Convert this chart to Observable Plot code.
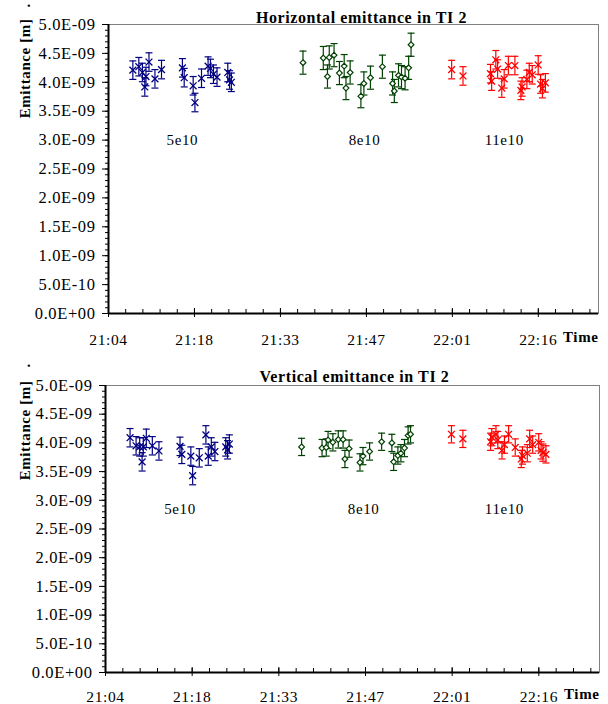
<!DOCTYPE html>
<html><head><meta charset="utf-8">
<script src="https://cdn.jsdelivr.net/npm/d3@7"></script>
<script src="https://cdn.jsdelivr.net/npm/@observablehq/plot@0.6"></script>
<style>
body{margin:0;background:#fff;}
#chart{width:608px;}
#chart svg{display:block;}
svg text{letter-spacing:0.6px;}
g[aria-label="title"] text{letter-spacing:1.2px;}
g[aria-label="group label"] text{letter-spacing:1.2px;}
</style></head><body><div id="chart"></div>
<script>
// time in minutes after 21:00
const timesBlue  = [8.4, 9.4, 10.0, 10.4, 10.6, 11.1, 12.1, 13.2, 16.7, 17.0, 18.5, 18.8, 19.9, 21.0, 21.4, 21.9, 22.5, 24.3, 24.6, 24.9];
const timesGreen = [36.9, 40.3, 41.0, 41.3, 42.1, 43.0, 43.8, 44.1, 44.8, 46.6, 47.1, 48.2, 50.2, 51.9, 52.2, 52.9, 53.4, 54.0, 54.6, 55.0];
const timesRed   = [61.8, 63.7, 68.3, 68.5, 69.2, 69.5, 70.2, 70.6, 71.3, 72.4, 73.4, 73.6, 74.4, 74.8, 75.3, 76.3, 76.7, 77.0, 77.5];

// emittance, units of 1E-09 m
const hBlue  = [4.21, 4.27, 4.17, 3.92, 4.10, 4.35, 4.06, 4.22, 4.25, 4.08, 3.94, 3.65, 4.07, 4.28, 4.24, 4.14, 4.09, 4.17, 4.04, 4.00];
const hGreen = [4.34, 4.42, 4.10, 4.43, 4.47, 4.16, 4.28, 3.90, 4.17, 3.76, 3.98, 4.08, 4.27, 3.98, 3.85, 4.12, 4.09, 4.07, 4.25, 4.65];
const hRed   = [4.22, 4.11, 4.15, 4.02, 4.39, 4.23, 3.90, 4.06, 4.29, 4.29, 3.86, 3.92, 4.05, 4.17, 4.13, 4.30, 3.97, 3.89, 3.99];
const vBlue  = [4.09, 3.95, 3.93, 3.67, 3.93, 4.08, 3.95, 3.86, 3.94, 3.80, 3.77, 3.43, 3.74, 4.14, 3.77, 3.93, 3.85, 3.93, 3.88, 3.98];
const vGreen = [3.93, 3.91, 3.92, 4.05, 4.01, 4.06, 4.06, 3.72, 3.90, 3.66, 3.77, 3.85, 4.02, 4.00, 3.67, 3.78, 3.82, 3.91, 4.13, 4.15];
const vRed   = [4.15, 4.07, 4.02, 4.10, 4.15, 4.05, 3.87, 3.97, 4.15, 3.92, 3.72, 3.78, 3.82, 4.07, 3.97, 4.01, 3.87, 3.83, 3.80];

// error bar half-widths
const hErrBlue = 0.16, hErrGreen = 0.20, hErrRed = 0.16;
const vErrBlue = 0.16, vErrGreen = 0.15, vErrRed = 0.15;

const groupLabels = ["5e10", "8e10", "11e10"];
const groupLabelTimes = [16.7, 47.2, 70.6];

const yTicks = [0, 0.5, 1.0, 1.5, 2.0, 2.5, 3.0, 3.5, 4.0, 4.5, 5.0];
const xTicks = [4.32, 18.72, 33.12, 47.52, 61.92, 76.32];
const xTickLabels = ["21:04", "21:18", "21:33", "21:47", "22:01", "22:16"];
const xDomain = [4.32, 86.4];
const yDomain = [0, 5];

const colBlue = "#000080", colGreen = "#004000", colRed = "#ff0000";
const FONT = "'Liberation Serif', serif";

const yMinor = d3.range(0, 51).map(i => i / 10);
const xMinor = [];
for (let t = xDomain[0]; t <= xDomain[1] + 1e-9; t += 2.88) xMinor.push(t);

function sci(d) {
  const [m, e] = (d * 1e-9).toExponential(1).split("e");
  const ev = +e;
  return m + "E" + (ev < 0 ? "-" : "+") + String(Math.abs(ev)).padStart(2, "0");
}

const capSymbol = {draw(context, size) {const r = Math.sqrt(size / Math.PI); context.moveTo(-r, 0); context.lineTo(r, 0);}};

function rows(times, vals, err) { return times.map((t, i) => ({t, v: vals[i], e: err})); }

function panel(o) {
  const plotH = o.height - o.marginTop - o.marginBottom;
  const marks = [
    Plot.frame({stroke: "#808080"}),
    Plot.ruleX([xDomain[0]], {stroke: "black", strokeWidth: 2}),
    Plot.ruleY([0], {stroke: "black", strokeWidth: 2}),
    Plot.axisY(yMinor, {tickSize: 3, tickFormat: () => "", label: null}),
    Plot.axisY(yTicks, {tickSize: 6, tickPadding: 7, tickFormat: sci, label: null, fontSize: 16.5, fontFamily: FONT}),
    Plot.axisX(xTicks, {tickSize: 4, tickPadding: o.tickPad, tickFormat: d => xTickLabels[xTicks.indexOf(d)], label: null, fontSize: 15.5, fontFamily: FONT}),
    Plot.ruleX(xMinor, {x: d => d, insetTop: plotH - 4, stroke: "black"}),
    Plot.ruleX(xTicks, {x: d => d, insetTop: plotH - 5, stroke: "black"}),
  ];
  for (const s of o.series) {
    const data = rows(s.times, s.vals, s.err);
    marks.push(
      Plot.ruleX(data, {x: "t", y1: d => d.v - d.e, y2: d => d.v + d.e, stroke: s.color, strokeWidth: 1.2}),
      Plot.dot(data, {x: "t", y: d => d.v - d.e, symbol: capSymbol, r: 3.5, stroke: s.color, fill: "none", strokeWidth: 1.2}),
      Plot.dot(data, {x: "t", y: d => d.v + d.e, symbol: capSymbol, r: 3.5, stroke: s.color, fill: "none", strokeWidth: 1.2}),
      s.symbol === "times"
        ? Plot.dot(data, {x: "t", y: "v", symbol: "times", r: 3.2, stroke: s.color, strokeWidth: 1.3})
        : Plot.dot(data, {x: "t", y: "v", symbol: "diamond2", r: 2.6, stroke: s.color, fill: "white", strokeWidth: 1.2})
    );
  }
  marks.push(
    Plot.text(groupLabels, {x: (d, i) => groupLabelTimes[i], y: () => o.labelY, text: d => d, fontSize: 15, fontFamily: FONT, ariaLabel: "group label"}),
    Plot.text([o.title], {frameAnchor: "top", dx: o.titleDx, dy: o.titleDy, fontWeight: "bold", fontSize: 16, fontFamily: FONT, ariaLabel: "title"}),
    Plot.text(["Emittance [m]"], {frameAnchor: "top-left", rotate: -90, textAnchor: "end", dx: 19 - o.marginLeft, dy: o.ylabTop - o.marginTop, fontWeight: "bold", fontSize: 15, fontFamily: FONT}),
    Plot.text(["."], {frameAnchor: "top-left", rotate: -90, dx: 19 - o.marginLeft, dy: o.dotY - o.marginTop, fontWeight: "bold", fontSize: 15, fontFamily: FONT}),
    Plot.text(["Time"], {frameAnchor: "bottom-right", textAnchor: "end", dy: o.timeDy, fontWeight: "bold", fontSize: 15, fontFamily: FONT})
  );
  return Plot.plot({
    width: 608, height: o.height,
    marginTop: o.marginTop, marginBottom: o.marginBottom, marginLeft: o.marginLeft, marginRight: o.marginRight,
    x: {type: "linear", domain: xDomain},
    y: {type: "linear", domain: yDomain},
    style: {fontFamily: FONT, fontSize: "15px", color: "black", background: "white", overflow: "visible"},
    marks
  });
}

const topPanel = panel({
  title: "Horizontal emittance in TI 2", titleDx: 8, titleDy: -13,
  height: 352, marginTop: 24, marginBottom: 39, marginLeft: 108, marginRight: 10,
  tickPad: 16, timeDy: 28, labelY: 3.0, ylabTop: 18, dotY: 7,
  series: [
    {times: timesBlue, vals: hBlue, err: hErrBlue, color: colBlue, symbol: "times"},
    {times: timesGreen, vals: hGreen, err: hErrGreen, color: colGreen, symbol: "diamond"},
    {times: timesRed, vals: hRed, err: hErrRed, color: colRed, symbol: "times"}
  ]
});
const bottomPanel = panel({
  title: "Vertical emittance in TI 2", titleDx: 2, titleDy: -15,
  height: 352, marginTop: 33, marginBottom: 32, marginLeft: 105, marginRight: 9,
  tickPad: 14, timeDy: 26, labelY: 2.85, ylabTop: 28, dotY: 15,
  series: [
    {times: timesBlue, vals: vBlue, err: vErrBlue, color: colBlue, symbol: "times"},
    {times: timesGreen, vals: vGreen, err: vErrGreen, color: colGreen, symbol: "diamond"},
    {times: timesRed, vals: vRed, err: vErrRed, color: colRed, symbol: "times"}
  ]
});
const chart = document.getElementById("chart");
chart.appendChild(topPanel);
chart.appendChild(bottomPanel);
</script>
</body></html>
